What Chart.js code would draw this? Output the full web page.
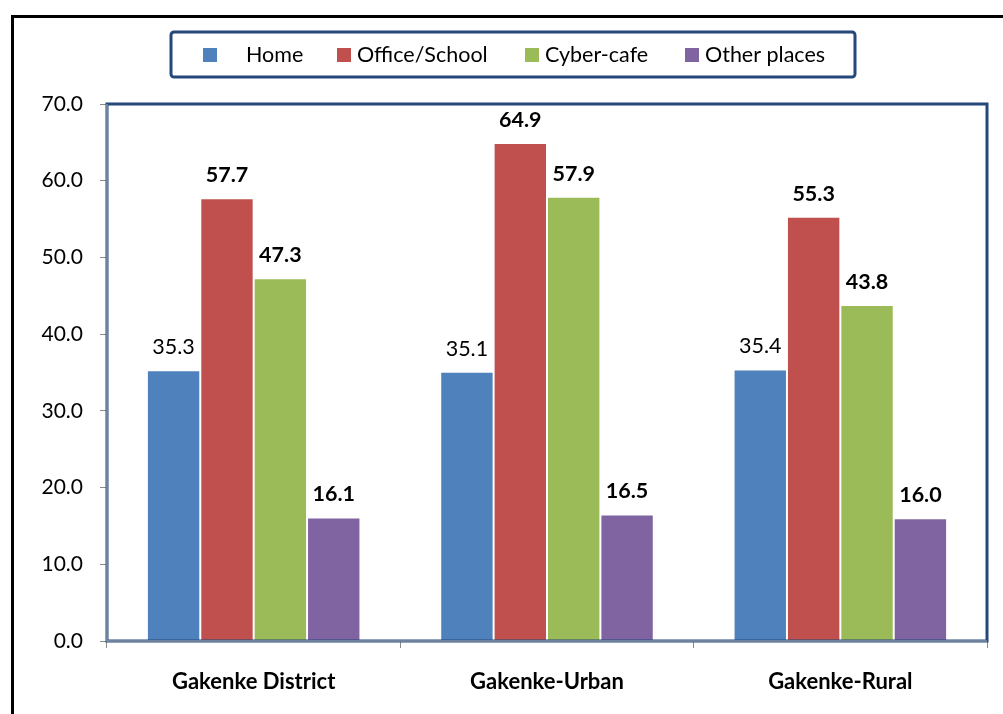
<!DOCTYPE html>
<html>
<head>
<meta charset="utf-8">
<script src="https://cdn.jsdelivr.net/npm/chart.js@4.4.1/dist/chart.umd.min.js"></script>
<style>
  html, body { margin: 0; padding: 0; background: #fff; }
  #wrap { width: 1003px; height: 714px; position: relative; }
</style>
</head>
<body>
<div id="wrap"><canvas id="chart" width="1003" height="714"></canvas></div>
<script>
// Internet access place by area
const categories = ['Gakenke District', 'Gakenke-Urban', 'Gakenke-Rural'];
const seriesNames = ['Home', 'Office/School', 'Cyber-cafe', 'Other places'];
const homeVals = [35.3, 35.1, 35.4];
const officeVals = [57.7, 64.9, 55.3];
const cyberVals = [47.3, 57.9, 43.8];
const otherVals = [16.1, 16.5, 16.0];
const seriesColors = ['#4F81BD', '#C0504D', '#9BBB59', '#8064A2'];
const yTicks = [0, 10, 20, 30, 40, 50, 60, 70];

const FONT = 'Lato, "Open Sans", sans-serif';
const frameBlue = '#24487A';

// legend item positions (marker x, text x)
const legendItems = [
  { mx: 203, tx: 246 },
  { mx: 337, tx: 357 },
  { mx: 525, tx: 545 },
  { mx: 685, tx: 705 }
];

const decor = {
  id: 'decor',
  beforeDraw(chart) {
    const ctx = chart.ctx;
    ctx.save();
    ctx.fillStyle = '#fff';
    ctx.fillRect(0, 0, chart.width, chart.height);
    // outer black frame
    ctx.strokeStyle = '#000';
    ctx.lineWidth = 3;
    ctx.strokeRect(12.5, 16.5, chart.width + 20, chart.height + 20);
    ctx.restore();
  },
  afterDraw(chart) {
    const ctx = chart.ctx;
    const a = chart.chartArea;
    ctx.save();
    // plot area frame
    ctx.strokeStyle = frameBlue;
    ctx.lineWidth = 3;
    ctx.strokeRect(a.left, a.top, a.right - a.left, a.bottom - a.top);
    ctx.strokeStyle = '#8A97A8';
    ctx.lineWidth = 1.5;
    ctx.beginPath();
    ctx.moveTo(a.left, a.top);
    ctx.lineTo(a.left, a.bottom);
    ctx.lineTo(a.right, a.bottom);
    ctx.stroke();

    // legend box
    ctx.strokeStyle = frameBlue;
    ctx.lineWidth = 3;
    ctx.beginPath();
    ctx.roundRect(171, 32, 684, 45, 3);
    ctx.stroke();
    ctx.font = '21.5px ' + FONT;
    ctx.textBaseline = 'middle';
    ctx.textAlign = 'left';
    chart.data.datasets.forEach((ds, i) => {
      const it = legendItems[i];
      ctx.fillStyle = ds.backgroundColor;
      ctx.fillRect(it.mx, 48, 14, 14);
      ctx.fillStyle = '#000';
      ctx.fillText(ds.label, it.tx, 55);
    });

    // value labels
    ctx.textAlign = 'center';
    ctx.textBaseline = 'middle';
    ctx.fillStyle = '#000';
    chart.data.datasets.forEach((ds, i) => {
      const meta = chart.getDatasetMeta(i);
      ctx.font = (i === 0 ? '' : 'bold ') + '21.5px ' + FONT;
      meta.data.forEach((bar, j) => {
        ctx.fillText(ds.data[j].toFixed(1), bar.x, bar.y - 23);
      });
    });
    ctx.restore();
  }
};

const valueSets = [homeVals, officeVals, cyberVals, otherVals];

new Chart(document.getElementById('chart'), {
  type: 'bar',
  data: {
    labels: categories,
    datasets: seriesNames.map((name, i) => ({
      label: name,
      data: valueSets[i],
      backgroundColor: seriesColors[i],
      borderColor: 'rgba(255,255,255,0.35)',
      borderWidth: 1,
      categoryPercentage: 0.728,
      barPercentage: 1.0
    }))
  },
  options: {
    responsive: false,
    animation: false,
    devicePixelRatio: 1,
    layout: { padding: { top: 104, right: 16, left: 0, bottom: 0 } },
    plugins: {
      legend: { display: false },
      tooltip: { enabled: false }
    },
    scales: {
      x: {
        afterFit(scale) { scale.height = 73; },
        grid: {
          offset: true,
          drawOnChartArea: false,
          color: '#8A8A8A',
          tickLength: 7
        },
        border: { display: false },
        ticks: {
          color: '#000',
          padding: 21,
          font: { family: FONT, size: 22, weight: 'bold' }
        }
      },
      y: {
        min: 0,
        max: 70,
        afterFit(scale) { scale.width = 107; },
        afterBuildTicks(scale) { scale.ticks = yTicks.map(v => ({ value: v })); },
        grid: {
          drawOnChartArea: false,
          color: '#8A8A8A',
          tickLength: 7
        },
        border: { display: false },
        ticks: {
          color: '#000',
          padding: 17,
          font: { family: FONT, size: 21 },
          callback: v => v.toFixed(1)
        }
      }
    }
  },
  plugins: [decor]
});
</script>
</body>
</html>
